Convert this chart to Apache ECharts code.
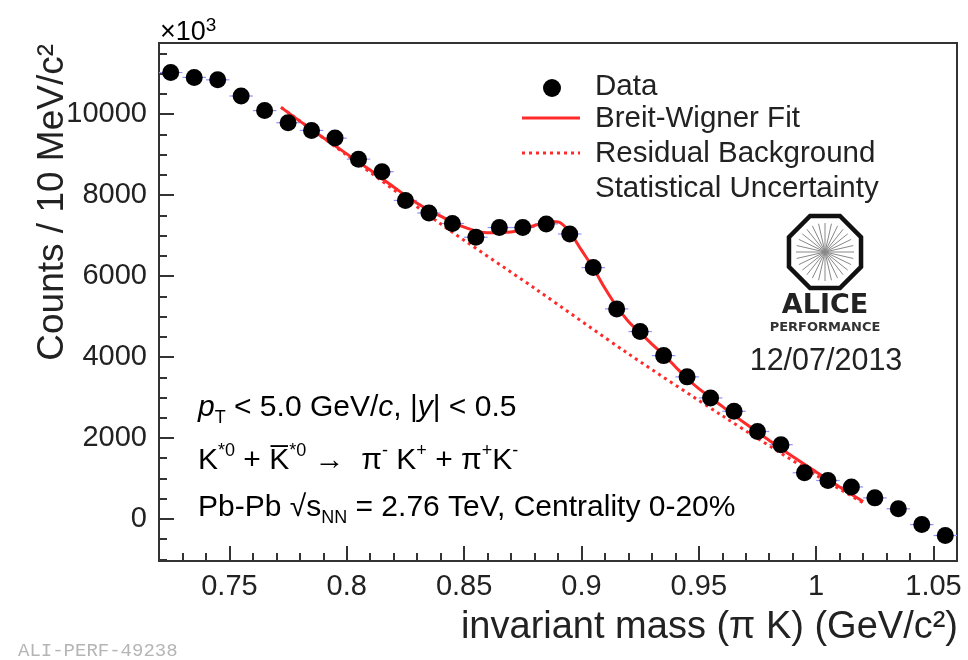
<!DOCTYPE html>
<html>
<head>
<meta charset="utf-8">
<script src="https://cdn.jsdelivr.net/npm/echarts@6/dist/echarts.min.js"></script>
<style>
  html, body { margin: 0; padding: 0; background: #fff; }
  #main { width: 968px; height: 660px; }
</style>
</head>
<body>
<div id="main"></div>
<script>
// bin centres (GeV/c^2) and counts
const massBins = [0.725, 0.735, 0.745, 0.755, 0.765, 0.775, 0.785, 0.795, 0.805, 0.815,
  0.825, 0.835, 0.845, 0.855, 0.865, 0.875, 0.885, 0.895, 0.905, 0.915,
  0.925, 0.935, 0.945, 0.955, 0.965, 0.975, 0.985, 0.995, 1.005, 1.015,
  1.025, 1.035, 1.045, 1.055];
const counts = [11030, 10910, 10850, 10450, 10090, 9790, 9600, 9410, 8890, 8580,
  7870, 7560, 7300, 6960, 7200, 7200, 7290, 7040, 6210, 5190,
  4630, 4035, 3510, 2990, 2660, 2160, 1835, 1140, 950, 790,
  520, 250, -140, -410];
const binHalfWidth = 0.005;

// Breit-Wigner fit curve
const fitMass = [0.772, 0.78, 0.79, 0.80, 0.81, 0.82, 0.83, 0.84, 0.85, 0.86,
  0.87, 0.88, 0.886, 0.89, 0.895, 0.90, 0.905, 0.91, 0.915, 0.92,
  0.925, 0.93, 0.935, 0.94, 0.945, 0.95, 0.96, 0.97, 0.98, 0.99,
  1.00, 1.01, 1.02];
const fitCounts = [10170, 9830, 9420, 9020, 8620, 8200, 7800, 7480, 7210, 7070,
  7090, 7250, 7350, 7340, 7080, 6640, 6200, 5700, 5250, 4880,
  4600, 4320, 4060, 3760, 3470, 3220, 2780, 2350, 1940, 1540,
  1160, 790, 430];

// residual background
const bgMass = [0.772, 0.80, 0.84, 0.88, 0.92, 0.96, 1.00, 1.02];
const bgCounts = [10170, 8990, 7290, 5700, 4080, 2550, 1080, 400];

// axes
const xMajorTicks = [0.75, 0.8, 0.85, 0.9, 0.95, 1, 1.05];
const xMinorTicks = [0.73, 0.74, 0.76, 0.77, 0.78, 0.79, 0.81, 0.82, 0.83, 0.84,
  0.86, 0.87, 0.88, 0.89, 0.91, 0.92, 0.93, 0.94, 0.96, 0.97, 0.98, 0.99,
  1.01, 1.02, 1.03, 1.04];
const yMajorTicks = [0, 2000, 4000, 6000, 8000, 10000];
const yMinorTicks = [-1000, -500, 500, 1000, 1500, 2500, 3000, 3500, 4500, 5000, 5500,
  6500, 7000, 7500, 8500, 9000, 9500, 10500, 11000, 11500];

const FONT = '"Liberation Sans", Arial, sans-serif';
const INK = '#222';
const FRAME = '#333';
const RED = '#ff2a2a';

function pairs(xs, ys) {
  return xs.map((x, i) => [x, ys[i]]);
}

function xAxisDef(ticks, len, labels) {
  return {
    type: 'value', min: 0.72, max: 1.06, position: 'bottom',
    axisLine: { show: labels, onZero: false, lineStyle: { color: FRAME, width: 2 } },
    axisTick: { show: true, inside: true, length: len, customValues: ticks,
      lineStyle: { color: FRAME, width: 2 } },
    axisLabel: { show: labels, customValues: ticks, margin: 11, fontSize: 29,
      fontFamily: FONT, color: INK, formatter: v => String(v) },
    splitLine: { show: false }
  };
}

function yAxisDef(ticks, len, labels) {
  return {
    type: 'value', min: -1040, max: 11760, position: 'left',
    axisLine: { show: labels, onZero: false, lineStyle: { color: FRAME, width: 2 } },
    axisTick: { show: true, inside: true, length: len, customValues: ticks,
      lineStyle: { color: FRAME, width: 2 } },
    axisLabel: { show: labels, customValues: ticks, margin: 12, fontSize: 29,
      fontFamily: FONT, color: INK, formatter: v => String(v) },
    splitLine: { show: false }
  };
}

function octagon(cx, cy, r) {
  const pts = [];
  for (let k = 0; k < 8; k++) {
    const a = Math.PI / 8 + k * Math.PI / 4;
    pts.push([cx + r * Math.cos(a), cy + r * Math.sin(a)]);
  }
  return pts;
}

function aliceLogo() {
  const cx = 825, cy = 252;
  const els = [];
  for (let k = 0; k < 28; k++) {
    const a = k * Math.PI * 2 / 28;
    els.push({ type: 'line', shape: { x1: cx, y1: cy, x2: cx + 29 * Math.cos(a), y2: cy + 29 * Math.sin(a) },
      style: { stroke: '#888', lineWidth: 1 } });
  }
  els.push({ type: 'polygon', shape: { points: octagon(cx, cy, 39) },
    style: { fill: 'none', stroke: '#111', lineWidth: 4.5 } });
  els.push({ type: 'text', x: cx, y: 306, style: { text: 'ALICE', fontSize: 27, fontWeight: 'bold',
    fontFamily: '"DejaVu Sans", sans-serif', fill: '#222', align: 'center', verticalAlign: 'middle' } });
  els.push({ type: 'text', x: cx, y: 328, style: { text: 'PERFORMANCE', fontSize: 13, fontWeight: 'bold',
    fontFamily: '"DejaVu Sans", sans-serif', fill: '#333', align: 'center', verticalAlign: 'middle' } });
  els.push({ type: 'text', x: 826, y: 362, style: { text: '12/07/2013', fontSize: 30.5,
    fontFamily: FONT, fill: INK, align: 'center', verticalAlign: 'middle' } });
  return els;
}

const rich = {
  n: { fontSize: 30, fontFamily: FONT, color: INK, lineHeight: 38, verticalAlign: 'middle' },
  i: { fontSize: 30, fontFamily: FONT, color: INK, lineHeight: 38, fontStyle: 'italic', verticalAlign: 'middle' },
  sub: { fontSize: 18, fontFamily: FONT, color: INK, lineHeight: 18, verticalAlign: 'bottom' },
  sup: { fontSize: 18, fontFamily: FONT, color: INK, lineHeight: 18, verticalAlign: 'top' }
};

const titleRich = {
  n: { fontSize: 27, fontFamily: FONT, color: INK, lineHeight: 30, verticalAlign: 'bottom' },
  sup: { fontSize: 19, fontFamily: FONT, color: INK, lineHeight: 30, verticalAlign: 'top', padding: [0, 0, 12, 0] }
};

function richLine(y, text) {
  return { type: 'text', x: 198, y: y, style: { text: text, rich: rich, align: 'left', verticalAlign: 'middle' } };
}

function legendText(y, text) {
  return { type: 'text', x: 595, y: y, style: { text: text, fontSize: 29.5, fontFamily: FONT, fill: INK,
    align: 'left', verticalAlign: 'middle' } };
}

const chart = echarts.init(document.getElementById('main'));

chart.setOption({
  animation: false,
  backgroundColor: '#fff',
  grid: { left: 159, right: 11, top: 43, bottom: 99, show: true, borderColor: FRAME, borderWidth: 2 },
  xAxis: [xAxisDef(xMajorTicks, 15, true), xAxisDef(xMinorTicks, 8, false)],
  yAxis: [yAxisDef(yMajorTicks, 15, true), yAxisDef(yMinorTicks, 8, false)],
  series: [
    {
      name: 'Residual Background', type: 'line', data: pairs(bgMass, bgCounts),
      smooth: 0.3, symbol: 'none', lineStyle: { color: RED, width: 3, type: [3, 4] }, z: 3
    },
    {
      name: 'Breit-Wigner Fit', type: 'line', data: pairs(fitMass, fitCounts),
      smooth: 0.35, symbol: 'none', lineStyle: { color: RED, width: 3 }, z: 4
    },
    {
      name: 'Statistical Uncertainty', type: 'custom', data: pairs(massBins, counts), z: 2,
      renderItem: (params, api) => {
        const a = api.coord([api.value(0) - binHalfWidth, api.value(1)]);
        const b = api.coord([api.value(0) + binHalfWidth, api.value(1)]);
        return { type: 'line', shape: { x1: a[0], y1: a[1], x2: b[0], y2: b[1] },
          style: { stroke: '#9090ff', lineWidth: 1.2 } };
      }
    },
    {
      name: 'Data', type: 'scatter', data: pairs(massBins, counts),
      symbolSize: 17, itemStyle: { color: '#000', opacity: 1 }, z: 5
    }
  ],
  graphic: [
    { type: 'text', x: 160, y: 31, style: { text: '{n|×10}{sup|3}', rich: titleRich,
      align: 'left', verticalAlign: 'middle' } },
    { type: 'text', x: 53, y: 44, rotation: Math.PI / 2, style: { text: 'Counts / 10 MeV/c²', fontSize: 37,
      fontFamily: FONT, fill: INK, align: 'right', verticalAlign: 'middle' } },
    { type: 'text', x: 958, y: 628, style: { text: 'invariant mass (π K) (GeV/c²)', fontSize: 38,
      fontFamily: FONT, fill: INK, align: 'right', verticalAlign: 'middle' } },
    { type: 'text', x: 18, y: 651, style: { text: 'ALI-PERF-49238', fontSize: 19,
      fontFamily: '"Liberation Mono", monospace', fill: '#b5b5b5', align: 'left', verticalAlign: 'middle' } },

    // legend
    { type: 'circle', shape: { cx: 552, cy: 88, r: 9 }, style: { fill: '#000' } },
    { type: 'line', shape: { x1: 522, y1: 118, x2: 580, y2: 118 }, style: { stroke: RED, lineWidth: 3 } },
    { type: 'line', shape: { x1: 522, y1: 153, x2: 580, y2: 153 }, style: { stroke: RED, lineWidth: 3, lineDash: [3, 4] } },
    legendText(87, 'Data'),
    legendText(119, 'Breit-Wigner Fit'),
    legendText(154, 'Residual Background'),
    legendText(189, 'Statistical Uncertainty'),

    // kinematics text
    richLine(408, '{i|p}{sub|T}{n| < 5.0 GeV/}{i|c}{n|, |}{i|y}{n|| < 0.5}'),
    richLine(461, '{n|K}{sup|*0}{n| + K\u0305}{sup|*0}{n| →  π}{sup|-}{n| K}{sup|+}{n| + π}{sup|+}{n|K}{sup|-}'),
    richLine(508, '{n|Pb-Pb √s}{sub|NN}{n| = 2.76 TeV, Centrality 0-20%}'),

    ...aliceLogo()
  ]
});
</script>
</body>
</html>
